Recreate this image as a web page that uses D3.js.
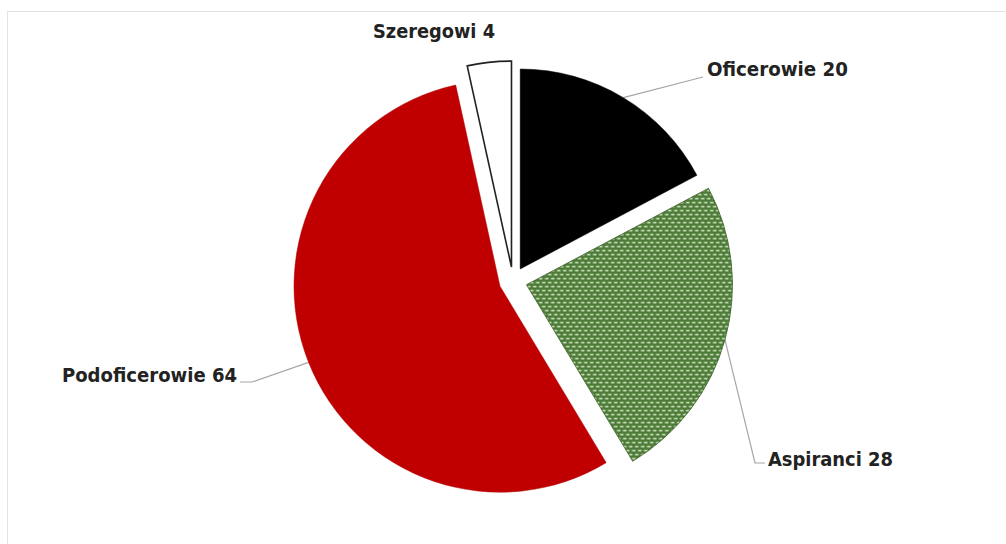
<!DOCTYPE html>
<html>
<head>
<meta charset="utf-8">
<script src="https://cdnjs.cloudflare.com/ajax/libs/d3/7.8.5/d3.min.js"></script>
<style>
  body { margin: 0; background: #fff; }
  .label { font-family: "Liberation Sans Narrow", "DejaVu Sans Condensed", sans-serif; font-weight: bold; font-size: 20px; fill: #222; }
</style>
</head>
<body>
<div class="canvas"></div>
<script>
// data
const categories = ['Oficerowie', 'Aspiranci', 'Podoficerowie', 'Szeregowi'];
const values = [20, 28, 64, 4];
const labels = ['Oficerowie 20', 'Aspiranci 28', 'Podoficerowie 64', 'Szeregowi 4'];

const width = 1006, height = 544;
const center = { x: 513, y: 281 };
const radius = 206;
const explode = 14;

const svg = d3.select('.canvas')
  .append('svg')
   .attr('width', width)
   .attr('height', height);

// faint chart border
svg.append('rect')
  .attr('x', 7.5).attr('y', 11.5)
  .attr('width', 1010).attr('height', 540)
  .attr('fill', 'none')
  .attr('stroke', '#e3e3e3');

// green dotted pattern
const defs = svg.append('defs');
const pat = defs.append('pattern')
  .attr('id', 'greenDots')
  .attr('patternUnits', 'userSpaceOnUse')
  .attr('width', 6).attr('height', 8);
pat.append('rect').attr('width', 6).attr('height', 8).attr('fill', '#4b7b36');
pat.append('rect').attr('x', 0.5).attr('y', 1).attr('width', 3.5).attr('height', 1.6).attr('fill', '#cfe0bf');
pat.append('rect').attr('x', 3.5).attr('y', 5).attr('width', 3.5).attr('height', 1.6).attr('fill', '#cfe0bf');
pat.append('rect').attr('x', -2.5).attr('y', 5).attr('width', 3.5).attr('height', 1.6).attr('fill', '#cfe0bf');

const fills = ['#000000', 'url(#greenDots)', '#c00000', '#ffffff'];
const strokes = ['#000000', '#3d6329', '#b00000', '#222222'];
const strokeW = [0.5, 0.8, 0.5, 1.6];

const pie = d3.pie().sort(null).value(d => d.value);
const arcs = pie(categories.map((c, i) => ({ name: c, value: values[i], label: labels[i] })));

const mid = d => (d.startAngle + d.endAngle) / 2;
const outerR = (d, i) => i === 0 ? radius - 6 : radius;
const offset = d => [Math.sin(mid(d)) * explode, -Math.cos(mid(d)) * explode];

const graph = svg.append('g')
  .attr('transform', `translate(${center.x}, ${center.y})`);

// leader lines (drawn under slices)
const leaderEnds = {
  'Oficerowie': [[190, -204]],
  'Aspiranci': [[242, 182], [252, 182]],
  'Podoficerowie': [[-261, 101], [-273, 101]]
};

arcs.forEach((d, i) => {
  const ends = leaderEnds[d.data.name];
  if (!ends) return;
  const [ox, oy] = offset(d);
  const r = outerR(d, i);
  const start = [ox + Math.sin(mid(d)) * r, oy - Math.cos(mid(d)) * r];
  graph.append('path')
    .attr('d', d3.line()([start, ...ends]))
    .attr('fill', 'none')
    .attr('stroke', '#a6a6a6')
    .attr('stroke-width', 1.2);
});

// slices
graph.selectAll('path.slice')
  .data(arcs)
  .enter()
  .append('path')
   .attr('class', 'slice')
   .attr('transform', d => `translate(${offset(d)[0]}, ${offset(d)[1]})`)
   .attr('d', (d, i) => d3.arc().innerRadius(0).outerRadius(outerR(d, i))(d))
   .attr('fill', (d, i) => fills[i])
   .attr('stroke', (d, i) => strokes[i])
   .attr('stroke-width', (d, i) => strokeW[i])
   .attr('stroke-linejoin', 'miter');

// labels (left x, baseline y, width)
const labelPos = {
  'Oficerowie': [707, 76, 141],
  'Aspiranci': [768, 466, 125],
  'Podoficerowie': [62, 382, 175],
  'Szeregowi': [373, 38, 122]
};

svg.selectAll('text.label')
  .data(arcs)
  .enter()
  .append('text')
   .attr('class', 'label')
   .attr('x', d => labelPos[d.data.name][0])
   .attr('y', d => labelPos[d.data.name][1])
   .attr('textLength', d => labelPos[d.data.name][2])
   .attr('lengthAdjust', 'spacingAndGlyphs')
   .text(d => d.data.label);
</script>
</body>
</html>
